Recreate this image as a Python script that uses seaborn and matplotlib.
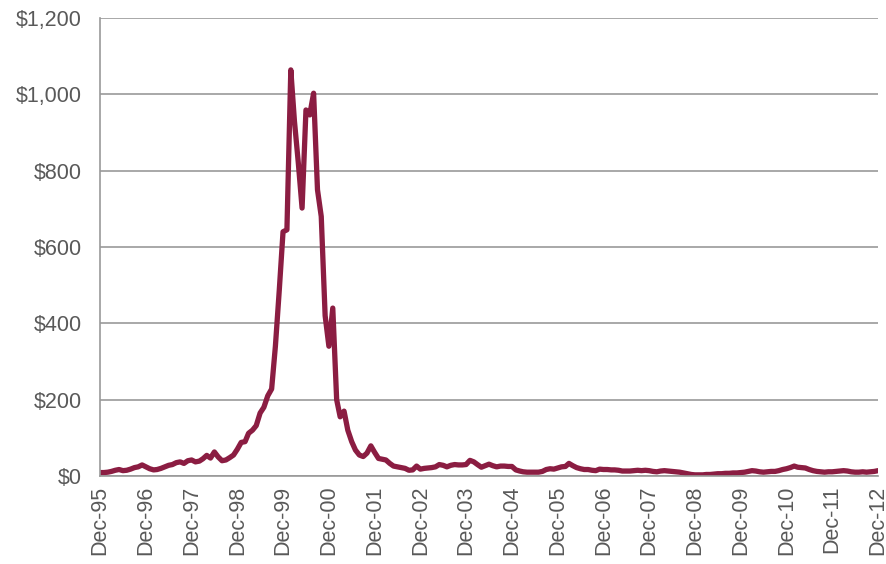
import seaborn as sns
import matplotlib.pyplot as plt
import matplotlib.dates as mdates
import pandas as pd

# monthly values, Dec-95 .. Dec-12
vals_96_98 = [9, 9, 10, 12, 15, 17, 14, 15, 18, 22, 24, 29,
              24, 19, 16, 17, 20, 24, 28, 30, 35, 37, 33, 40,
              42, 37, 39, 45, 54, 47, 63, 50, 40, 42, 48, 55]
vals_99_01 = [70, 88, 90, 112, 120, 132, 165, 180, 210, 228, 340, 487,
              640, 645, 1064, 930, 820, 702, 959, 946, 1003, 750, 680, 420,
              340, 440, 200, 155, 170, 120, 90, 68, 55, 51, 60, 79]
vals_02_04 = [62, 46, 44, 42, 33, 26, 24, 22, 20, 15, 16, 26,
              18, 20, 21, 22, 24, 30, 28, 24, 28, 30, 29, 29,
              30, 41, 37, 30, 23, 27, 31, 27, 24, 26, 26, 25]
vals_05_07 = [25, 16, 13, 11, 10, 10, 10, 10, 12, 17, 19, 18,
              21, 24, 25, 33, 27, 22, 19, 17, 17, 15, 14, 18,
              17, 17, 16, 16, 15, 13, 13, 13, 14, 15, 14, 15]
vals_08_10 = [14, 12, 11, 13, 14, 13, 12, 11, 10, 8, 6, 4,
              3, 3, 3, 4, 4, 5, 6, 6, 7, 7, 8, 8,
              9, 10, 12, 14, 13, 11, 10, 11, 12, 12, 14, 17]
vals_11_12 = [19, 22, 26, 23, 22, 21, 17, 14, 12, 11, 10, 11,
              11, 12, 13, 14, 13, 11, 10, 10, 11, 10, 11, 12,
              14]

values = vals_96_98 + vals_99_01 + vals_02_04 + vals_05_07 + vals_08_10 + vals_11_12
dates = pd.date_range("1995-12-01", periods=len(values), freq="MS")
df = pd.DataFrame({"date": dates, "value": values})

y_ticks = [0, 200, 400, 600, 800, 1000, 1200]
y_labels = ["$0", "$200", "$400", "$600", "$800", "$1,000", "$1,200"]

sns.set_style("white")
plt.rcParams["font.family"] = ["Liberation Sans", "DejaVu Sans"]

grey = "#999999"
txt = "#595959"

fig = plt.figure(figsize=(8.87, 5.64), dpi=100)
ax = fig.add_axes([100 / 887, 1 - 476 / 564, 778 / 887, 458 / 564])

sns.lineplot(data=df, x="date", y="value", color="#8B1D42", linewidth=3.8,
             solid_joinstyle="round", solid_capstyle="round", ax=ax)

ax.set_ylim(0, 1200)
ax.set_xlim(dates[0], dates[-1])
ax.set_yticks(y_ticks)
ax.set_yticklabels(y_labels)
ax.yaxis.grid(True, color=grey, linewidth=1.2)
ax.set_axisbelow(True)

xt = pd.date_range("1995-12-01", "2012-12-01", freq="12MS")
ax.set_xticks(xt)
ax.xaxis.set_major_formatter(mdates.DateFormatter("%b-%y"))
plt.setp(ax.get_xticklabels(), rotation=90)

ax.tick_params(axis="both", labelsize=15.5, colors=txt, length=5, width=1.2,
               color=grey, direction="out")
ax.tick_params(axis="x", pad=2)
ax.tick_params(axis="y", pad=8)
ax.set_xlabel("")
ax.set_ylabel("")

for s in ["top", "right"]:
    ax.spines[s].set_visible(False)
for s in ["left", "bottom"]:
    ax.spines[s].set_color(grey)
    ax.spines[s].set_linewidth(1.2)

fig.savefig("out.png", dpi=100)
